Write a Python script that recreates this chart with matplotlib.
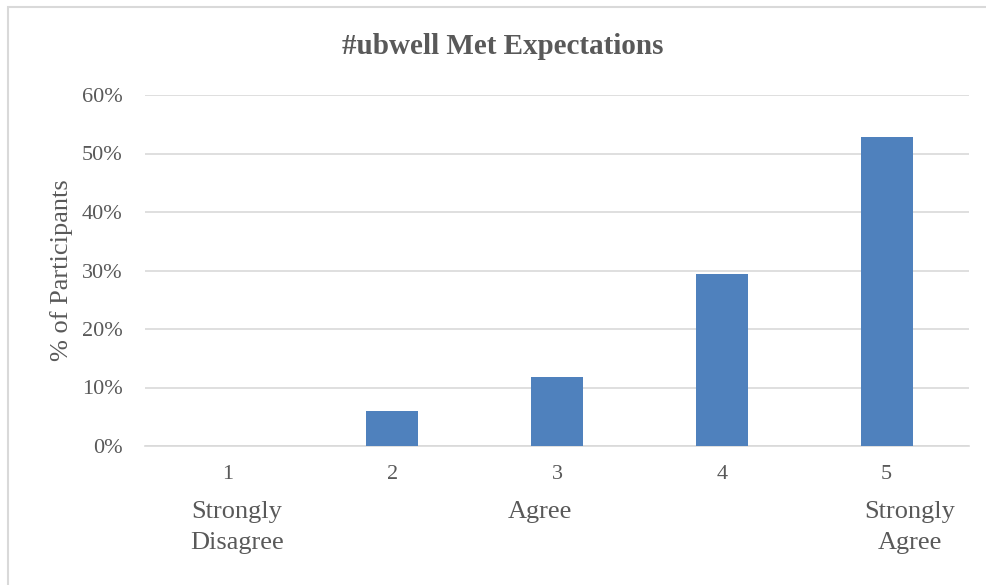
import matplotlib.pyplot as plt
from matplotlib.patches import Rectangle
from matplotlib.ticker import PercentFormatter
import numpy as np

# rating categories and share of participants (%)
categories = ["1", "2", "3", "4", "5"]
pct = [0.0, 5.9, 11.8, 29.4, 52.9]
scale_labels = ["Strongly\nDisagree", "Agree", "Strongly\nAgree"]
yticks = [0, 10, 20, 30, 40, 50, 60]

plt.rcParams['font.family'] = ['Liberation Serif', 'DejaVu Serif']
grey = '#595959'

fig = plt.figure(figsize=(9.87, 5.85), dpi=100)
ax = fig.add_axes([145/987, 1 - 446/585, 824/987, 351/585])

x = np.arange(len(categories))
ax.bar(x, pct, width=0.315, color='#4F81BD', zorder=3)

ax.set_xlim(-0.5, 4.5)
ax.set_ylim(0, 60)
ax.set_yticks(yticks)
ax.yaxis.set_major_formatter(PercentFormatter(decimals=0))
ax.set_xticks(x)
ax.set_xticklabels(categories)
ax.tick_params(length=0, labelsize=16, colors=grey)
ax.tick_params(axis='y', pad=16)
ax.tick_params(axis='x', pad=14)
ax.grid(axis='y', color='#D9D9D9', lw=1.2, zorder=0)
for s in ['top', 'right', 'left']:
    ax.spines[s].set_visible(False)
ax.spines['bottom'].set_color('#D9D9D9')
ax.spines['bottom'].set_linewidth(1.2)

fig.text(62/987, 1 - 270/585, '% of Participants', fontsize=19, color=grey,
         rotation=90, ha='center', va='center')
fig.text(503/987, 1 - 46/585, '#ubwell Met Expectations', fontsize=21,
         fontweight='bold', color=grey, ha='center', va='center')

# scale anchors under the axis
for xp, lab in zip([237, 540, 910], scale_labels):
    fig.text(xp/987, 1 - 501/585, lab, fontsize=19, color=grey,
             ha='center', va='top', linespacing=1.55)

# chart frame (only top and left visible in the crop)
fig.add_artist(Rectangle((8/987, -0.1), 1.2, 1 - 7/585 + 0.1,
                         transform=fig.transFigure, fill=False,
                         ec='#D9D9D9', lw=1.5))

fig.savefig('out.png', dpi=100)
